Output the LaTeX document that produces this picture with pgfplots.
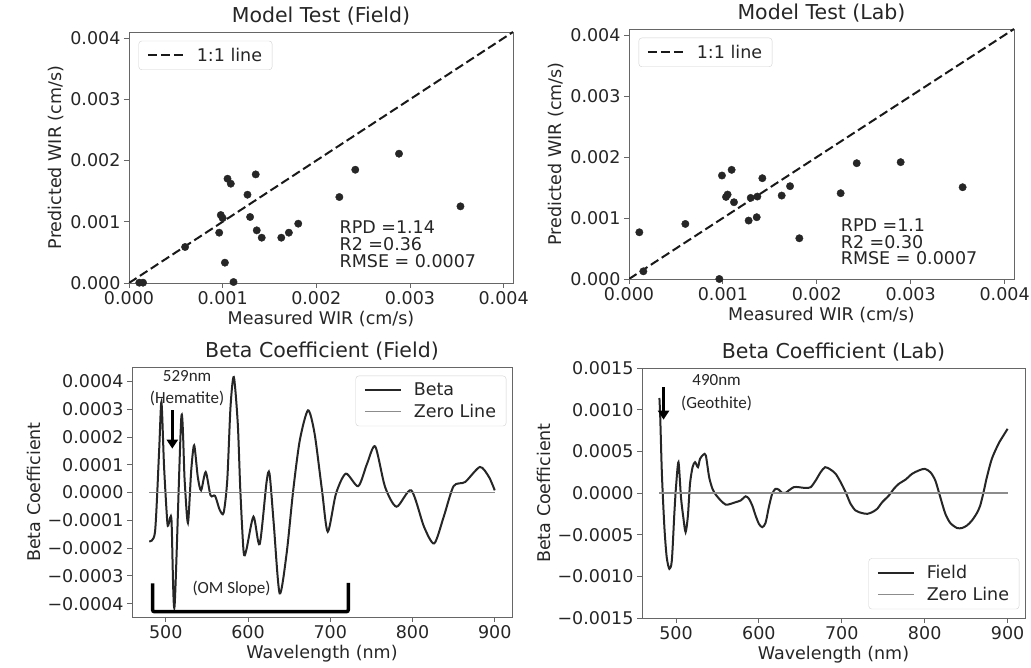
\documentclass[border=0pt]{standalone}
\usepackage{fontspec}
\setmainfont{DejaVu Sans}
\newfontfamily\calfont{Carlito}
\usepackage{pgfplots}
\pgfplotsset{compat=1.18}
\usetikzlibrary{arrows.meta}

\pgfplotsset{
  base/.style={
    scale only axis,
    /pgf/number format/assume math mode=true,
    axis line style={black!60, line width=0.9pt},
    every tick/.style={black!60, line width=0.9pt},
    tick align=outside,
    major tick length=5pt,
    xtick pos=bottom, ytick pos=left,
    scaled ticks=false,
    ticklabel style={font=\fontsize{17.5}{20}\selectfont, text=black!85},
    label style={font=\fontsize{17.5}{20}\selectfont, text=black!85},
    title style={font=\fontsize{20.5}{24}\selectfont, text=black!85, yshift=-3pt},
    legend cell align=left,
    legend style={font=\fontsize{17.5}{20}\selectfont, text=black!85, draw=black!18,
      rounded corners=3pt, fill=white, inner xsep=8pt, inner ysep=5pt, row sep=3pt,
      /tikz/every odd column/.append style={column sep=10pt}},
    legend image code/.code={\draw[##1] (0pt,0pt) -- (36pt,0pt);},
  },
  scat/.style={only marks, mark=*, mark size=3.7pt, black!85, forget plot},
  one/.style={black!90, dash pattern=on 9pt off 4pt, line width=2pt},
  beta/.style={black!85, line width=2pt, smooth, tension=0.45},
  zero/.style={black!45, line width=1.6pt},
  wirx/.style={xmin=0, xmax=0.0041, ymin=0, ymax=0.0041,
    xtick={0,0.001,0.002,0.003,0.004}, xticklabels={0.000,0.001,0.002,0.003,0.004},
    ytick={0,0.001,0.002,0.003,0.004}, yticklabels={0.000,0.001,0.002,0.003,0.004},
    xlabel={Measured WIR (cm/s)}, ylabel={Predicted WIR (cm/s)},
    legend style={at={(0.025,0.965)}, anchor=north west}},
}
\tikzset{
  stat/.style={anchor=base west, inner sep=0pt, font=\fontsize{17.5}{20}\selectfont, text=black!85},
  ann/.style={font=\calfont\fontsize{17}{20}\selectfont, text=black!85},
}

\begin{document}
\begin{tikzpicture}
\path[use as bounding box, fill=white] (0,0) rectangle (1031pt,668pt);

% ---------- Model Test (Field) ----------
\begin{axis}[base, wirx, at={(129pt,385pt)}, anchor=south west, width=384pt, height=251pt,
  title={Model Test (Field)}]
\addplot[one] coordinates {(0,0) (0.0041,0.0041)};
\addlegendentry{1:1 line}
\addplot[scat] coordinates {
(0.00011,0.000005) (0.00015,0.000005) (0.000599,0.000588) (0.000963,0.000822)
(0.00098,0.00111) (0.00100,0.00106) (0.001024,0.000332) (0.001052,0.001703)
(0.001087,0.001622) (0.001116,0.000016) (0.001265,0.001442) (0.001293,0.001078)
(0.001353,0.001774) (0.001364,0.00086) (0.001417,0.00074) (0.001626,0.00074)
(0.001707,0.000822) (0.001807,0.000969) (0.002246,0.001404) (0.002416,0.00185)
(0.002883,0.002112) (0.003539,0.001252)};
\node[stat] at (axis cs:0.002247,0.000806) {RPD =1.14};
\node[stat] at (axis cs:0.002247,0.000534) {R2 =0.36};
\node[stat] at (axis cs:0.002247,0.000261) {RMSE = 0.0007};
\end{axis}

% ---------- Model Test (Lab) ----------
\begin{axis}[base, wirx, at={(629pt,389pt)}, anchor=south west, width=385pt, height=250pt,
  title={Model Test (Lab)}]
\addplot[one] coordinates {(0,0) (0.0041,0.0041)};
\addlegendentry{1:1 line}
\addplot[scat] coordinates {
(0.00011,0.000766) (0.000153,0.000126) (0.0006,0.000903) (0.000962,0.0)
(0.00099,0.001697) (0.001033,0.001346) (0.00105,0.001385) (0.001093,0.00179)
(0.001118,0.001259) (0.001274,0.000958) (0.001296,0.00133) (0.001367,0.001352)
(0.00136,0.001013) (0.00142,0.001653) (0.001626,0.001368) (0.001715,0.001522)
(0.001814,0.000668) (0.002254,0.001407) (0.002425,0.001899) (0.002893,0.001916)
(0.003553,0.001505)};
\node[stat] at (axis cs:0.002254,0.000772) {RPD =1.1};
\node[stat] at (axis cs:0.002254,0.000502) {R2 =0.30};
\node[stat] at (axis cs:0.002254,0.000235) {RMSE = 0.0007};
\end{axis}

% ---------- Beta Coefficient (Field) ----------
\begin{axis}[base, at={(132pt,51pt)}, anchor=south west, width=380pt, height=250pt,
  title={Beta Coefficient (Field)},
  xmin=459, xmax=921, ymin=-0.000448, ymax=0.000452,
  xtick={500,600,700,800,900}, xticklabels={500,600,700,800,900},
  ytick={-0.0004,-0.0003,-0.0002,-0.0001,0,0.0001,0.0002,0.0003,0.0004},
  yticklabels={−0.0004,−0.0003,−0.0002,−0.0001,0.0000,0.0001,0.0002,0.0003,0.0004},
  xlabel={Wavelength (nm)}, ylabel={Beta Coefficient},
  legend style={at={(0.985,0.965)}, anchor=north east}]
\addplot[beta] coordinates {
(480,-1.75e-4) (487,-1.41e-4) (492,1.52e-4) (494.8,3.26e-4) (498,0.92e-4)
(502,-1.09e-4) (504,-1.09e-4) (507,-0.99e-4) (510.7,-4.11e-4) (519,2.72e-4)
(523,0.44e-4) (527,-1.09e-4) (531,0.8e-4) (534.6,1.7e-4) (539,0.56e-4)
(543,0.08e-4) (548.6,0.74e-4) (554.5,-0.1e-4) (560,-0.12e-4) (565.7,-0.63e-4)
(570.4,-0.73e-4) (574.8,0.44e-4) (578.8,3.1e-4) (582.8,4.16e-4) (587.6,2.48e-4)
(590.7,0.08e-4) (594.7,-2.13e-4) (598,-2.07e-4) (606.7,-0.87e-4) (614.2,-1.86e-4)
(622.6,0.38e-4) (626.2,0.68e-4) (631.3,-1.11e-4) (638.5,-3.63e-4) (647,-2.19e-4)
(655,0.08e-4) (663,1.88e-4) (673,2.96e-4) (681,2.12e-4) (690,0.08e-4)
(697,-1.41e-4) (707,-0.04e-4) (719,0.68e-4) (734,0.23e-4) (744.8,1.04e-4)
(754.7,1.66e-4) (766.7,0.2e-4) (780.6,-0.51e-4) (798.5,0.08e-4) (814,-1.23e-4)
(826.4,-1.83e-4) (838,-0.87e-4) (850,0.23e-4) (864,0.38e-4) (882,0.92e-4)
(893,0.56e-4) (900,0.08e-4)};
\addlegendentry{Beta}
\addplot[zero] coordinates {(480,0) (900,0)};
\addlegendentry{Zero Line}
\draw[-{Triangle[width=11pt,length=9pt]}, line width=3.5pt, black]
  (axis cs:508,0.000296) -- (axis cs:508,0.000158);
\node[ann] at (axis cs:526,0.000420) {529nm};
\node[ann] at (axis cs:526,0.000338) {(Hematite)};
\draw[line width=3.5pt, black, rounded corners=2pt]
  (axis cs:484,-0.000327) -- (axis cs:484,-0.000429) -- (axis cs:722,-0.000429) -- (axis cs:722,-0.000325);
\node[ann] at (axis cs:580,-0.000345) {(OM Slope)};
\end{axis}

% ---------- Beta Coefficient (Lab) ----------
\begin{axis}[base, at={(642pt,50pt)}, anchor=south west, width=383pt, height=250pt,
  title={Beta Coefficient (Lab)},
  xmin=459, xmax=921, ymin=-0.0015, ymax=0.0015,
  xtick={500,600,700,800,900}, xticklabels={500,600,700,800,900},
  ytick={-0.0015,-0.001,-0.0005,0,0.0005,0.001,0.0015},
  yticklabels={−0.0015,−0.0010,−0.0005,0.0000,0.0005,0.0010,0.0015},
  xlabel={Wavelength (nm)}, ylabel={Beta Coefficient},
  legend style={at={(0.985,0.035)}, anchor=south east}]
\addplot[beta] coordinates {
(480,1.14e-3) (481,0.91e-3) (483,0.23e-3) (486,-0.41e-3) (488.8,-0.77e-3)
(492,-0.91e-3) (495,-0.81e-3) (498,-0.25e-3) (500,0.07e-3) (503,0.37e-3)
(506,-0.05e-3) (508.8,-0.29e-3) (511.6,-0.47e-3) (514.4,-0.27e-3) (516.9,0.11e-3)
(520,0.31e-3) (523,0.37e-3) (526.5,0.31e-3) (529,0.41e-3) (533,0.46e-3)
(536,0.45e-3) (540,0.19e-3) (544,0.05e-3) (548,-0.02e-3) (554,-0.09e-3)
(560,-0.14e-3) (566,-0.13e-3) (572,-0.11e-3) (578,-0.09e-3) (584,-0.04e-3)
(588,-0.07e-3) (592,-0.15e-3) (596,-0.27e-3) (600,-0.37e-3) (604,-0.41e-3)
(608,-0.36e-3) (612,-0.17e-3) (616,-0.01e-3) (620,0.05e-3) (624,0.04e-3)
(628,0.0) (632,0.0) (636,0.03e-3) (642,0.07e-3) (648,0.07e-3)
(656,0.06e-3) (662.5,0.07e-3) (668.5,0.15e-3) (674.5,0.25e-3) (680,0.31e-3)
(686.6,0.28e-3) (692.6,0.23e-3) (698.6,0.13e-3) (704.6,0.01e-3) (710.6,-0.13e-3)
(716.6,-0.21e-3) (724,-0.24e-3) (730.8,-0.25e-3) (736.7,-0.23e-3) (742.7,-0.19e-3)
(748.8,-0.11e-3) (756.8,-0.03e-3) (762.8,0.05e-3) (768.8,0.11e-3) (776.8,0.16e-3)
(784.8,0.23e-3) (792.8,0.27e-3) (800,0.29e-3) (806.8,0.25e-3) (812.8,0.15e-3)
(818.8,-0.05e-3) (824.9,-0.25e-3) (830.9,-0.36e-3) (838.9,-0.42e-3) (845,-0.42e-3)
(851,-0.39e-3) (857,-0.33e-3) (863,-0.24e-3) (867,-0.15e-3) (871,0.01e-3)
(875,0.19e-3) (881,0.41e-3) (889,0.59e-3) (895,0.69e-3) (900,0.77e-3)};
\addlegendentry{Field}
\addplot[zero] coordinates {(480,0) (900,0)};
\addlegendentry{Zero Line}
\draw[-{Triangle[width=11pt,length=9pt]}, line width=3.5pt, black]
  (axis cs:485,0.00127) -- (axis cs:485,0.00088);
\node[ann] at (axis cs:549,0.00135) {490nm};
\node[ann] at (axis cs:549,0.00107) {(Geothite)};
\end{axis}
\end{tikzpicture}
\end{document}
